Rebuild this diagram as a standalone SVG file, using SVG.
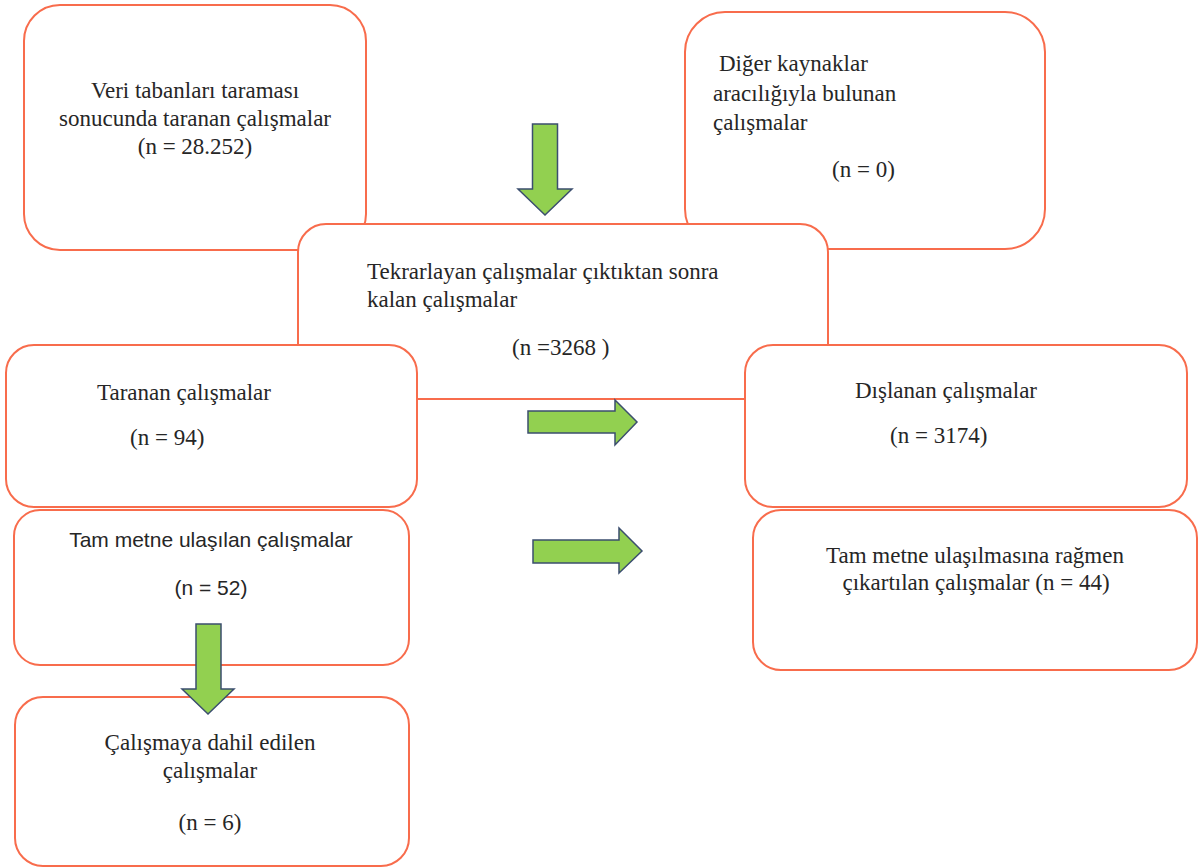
<svg xmlns="http://www.w3.org/2000/svg" width="1198" height="868" viewBox="0 0 1198 868">
  <style>
    .box { fill: #ffffff; stroke: #F86C4C; stroke-width: 2; }
    .t { font-family: "Liberation Serif", "Times New Roman", serif; font-size: 23px; fill: #262626; }
    .s { font-family: "Liberation Sans", Arial, sans-serif; font-size: 21px; fill: #262626; }
    .m { text-anchor: middle; }
    .arrow { fill: #92D050; stroke: #3B4E6E; stroke-width: 1.5; stroke-linejoin: miter; }
  </style>
  <rect width="1198" height="868" fill="#ffffff"/>

  <g id="node-veri">
    <rect class="box" x="24" y="5" width="342" height="245" rx="36" ry="36"/>
    <text class="t m" x="195" y="98">Veri tabanları taraması</text>
    <text class="t m" x="195" y="126">sonucunda taranan çalışmalar</text>
    <text class="t m" x="195" y="154">(n = 28.252)</text>
  </g>

  <g id="node-diger">
    <rect class="box" x="685" y="12" width="360" height="237" rx="40" ry="40"/>
    <text class="t" x="719" y="71">Diğer kaynaklar</text>
    <text class="t" x="713" y="101">aracılığıyla bulunan</text>
    <text class="t" x="713" y="130">çalışmalar</text>
    <text class="t" x="832" y="177">(n = 0)</text>
  </g>

  <g id="node-tekrarlayan">
    <rect class="box" x="298" y="224" width="530" height="175" rx="28" ry="28"/>
    <text class="t" x="367" y="279">Tekrarlayan çalışmalar çıktıktan sonra</text>
    <text class="t" x="367" y="307">kalan çalışmalar</text>
    <text class="t" x="512" y="355">(n =3268 )</text>
  </g>

  <g id="node-taranan">
    <rect class="box" x="6" y="345" width="411" height="162" rx="28" ry="28"/>
    <text class="t" x="97" y="400">Taranan çalışmalar</text>
    <text class="t" x="130" y="445">(n = 94)</text>
  </g>

  <g id="node-dislanan">
    <rect class="box" x="745" y="345" width="442" height="162" rx="28" ry="28"/>
    <text class="t" x="855" y="398">Dışlanan çalışmalar</text>
    <text class="t" x="890" y="443">(n = 3174)</text>
  </g>

  <g id="node-tammetne">
    <rect class="box" x="14" y="510" width="395" height="155" rx="26" ry="26"/>
    <text class="s m" x="211" y="547">Tam metne ulaşılan çalışmalar</text>
    <text class="s m" x="211" y="595">(n = 52)</text>
  </g>

  <g id="node-cikartilan">
    <rect class="box" x="753" y="510" width="444" height="160" rx="28" ry="28"/>
    <text class="t m" x="975" y="563">Tam metne ulaşılmasına rağmen</text>
    <text class="t m" x="976" y="590">çıkartılan çalışmalar (n = 44)</text>
  </g>

  <g id="node-dahil">
    <rect class="box" x="15" y="697" width="394" height="169" rx="28" ry="28"/>
    <text class="t m" x="210" y="750">Çalışmaya dahil edilen</text>
    <text class="t m" x="210" y="778">çalışmalar</text>
    <text class="t m" x="210" y="830">(n = 6)</text>
  </g>

  <g id="connectors">
    <polygon class="arrow" points="532.5,124 557.5,124 557.5,189 572,189 545,215 518,189 532.5,189"/>
    <polygon class="arrow" points="528,411 615,411 615,400 637,422 615,445 615,433 528,433"/>
    <polygon class="arrow" points="533,540 619,540 619,528 642,551 619,573 619,563 533,563"/>
    <polygon class="arrow" points="196,624 221,624 221,689 234,689 208,714 182,689 196,689"/>
  </g>
</svg>
